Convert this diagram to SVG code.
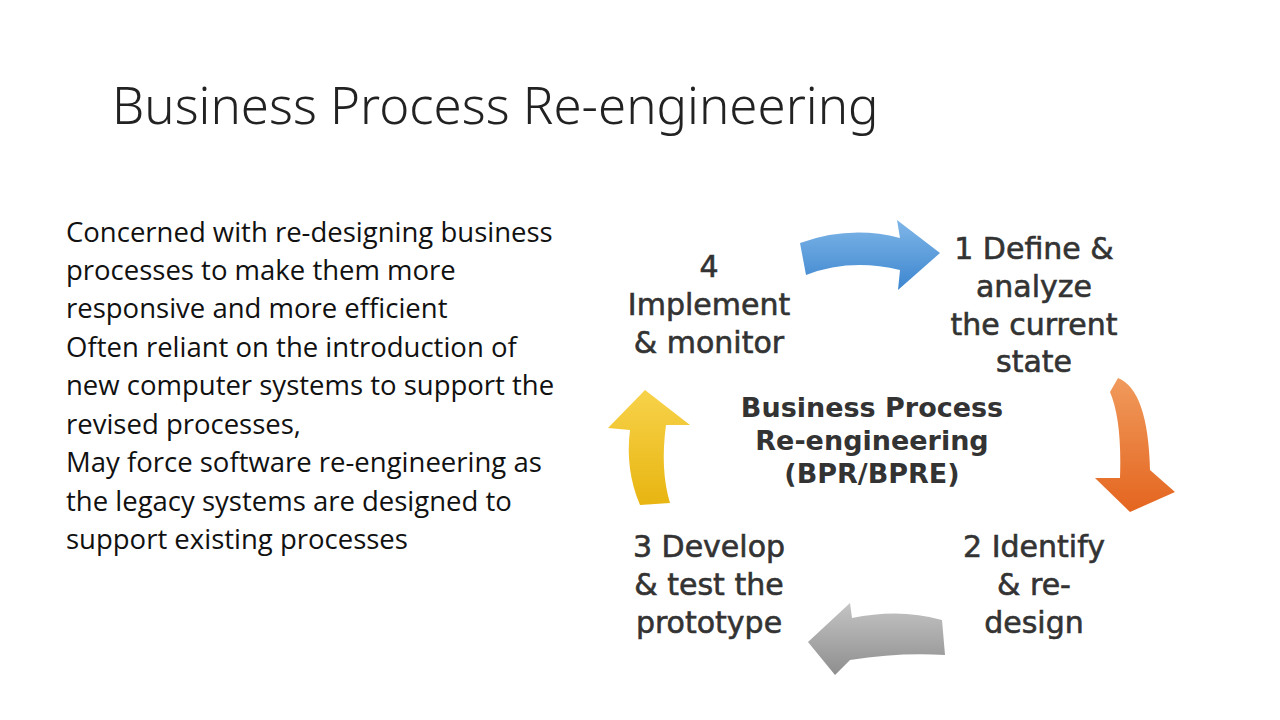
<svg xmlns="http://www.w3.org/2000/svg" width="1280" height="720" viewBox="0 0 1280 720">
<defs>
<linearGradient id="gb" x1="0" y1="0" x2="0" y2="1"><stop offset="0" stop-color="#7fb6e8"/><stop offset="1" stop-color="#3d86cf"/></linearGradient>
<linearGradient id="go" x1="0" y1="0" x2="0" y2="1"><stop offset="0" stop-color="#f09a5c"/><stop offset="1" stop-color="#e4651f"/></linearGradient>
<linearGradient id="gg" x1="0" y1="0" x2="0" y2="1"><stop offset="0" stop-color="#c4c4c4"/><stop offset="1" stop-color="#8e8e8e"/></linearGradient>
<linearGradient id="gy" x1="0" y1="0" x2="0" y2="1"><stop offset="0" stop-color="#f7d24a"/><stop offset="1" stop-color="#e8b511"/></linearGradient>
</defs>
<style>
.t{font-family:"Noto Sans","Open Sans",sans-serif;font-weight:300;font-size:51px;fill:#222}
.b{font-family:"Open Sans","Noto Sans",sans-serif;font-size:27.5px;fill:#111}
.d{font-family:"DejaVu Sans",Verdana,sans-serif;font-size:30px;fill:#333;stroke:#333;stroke-width:0.6;text-anchor:middle}
.c{font-family:"DejaVu Sans",Verdana,sans-serif;font-size:27px;font-weight:bold;fill:#333;text-anchor:middle}
</style>
<rect width="1280" height="720" fill="#fff"/>
<text class="t" x="112" y="124">Business Process Re-engineering</text>
<g class="b">
<text x="66" y="242">Concerned with re-designing business</text>
<text x="66" y="280">processes to make them more</text>
<text x="66" y="318">responsive and more efficient</text>
<text x="66" y="357">Often reliant on the introduction of</text>
<text x="66" y="395">new computer systems to support the</text>
<text x="66" y="434">revised processes,</text>
<text x="66" y="472">May force software re-engineering as</text>
<text x="66" y="511">the legacy systems are designed to</text>
<text x="66" y="549">support existing processes</text>
</g>
<g id="connectors">
<path d="M800,243 Q850,225 900,238 L897,220 L940,253 L898,290 L900,270 Q850,258 806,275 Z" fill="url(#gb)"/>
<path d="M1118,378 Q1148,390 1150,470 L1175,492 L1130,512 L1095,478 L1120,478 Q1122,420 1110,392 Z" fill="url(#go)"/>
<path d="M942,620 Q900,608 852,618 L850,603 L808,642 L835,675 L850,660 Q900,652 945,655 Z" fill="url(#gg)"/>
<path d="M640,505 Q625,470 630,430 L608,428 L645,390 L690,425 L666,425 Q660,470 670,503 Z" fill="url(#gy)"/>
</g>
<g id="n1" class="d"><text x="1034" y="259">1 Define &amp;</text><text x="1034" y="297">analyze</text><text x="1034" y="335">the current</text><text x="1034" y="372">state</text></g>
<g id="n2" class="d"><text x="1034" y="557">2 Identify</text><text x="1034" y="595">&amp; re-</text><text x="1034" y="633">design</text></g>
<g id="n3" class="d"><text x="709" y="557">3 Develop</text><text x="709" y="595">&amp; test the</text><text x="709" y="633">prototype</text></g>
<g id="n4" class="d"><text x="709" y="277">4</text><text x="709" y="315">Implement</text><text x="709" y="353">&amp; monitor</text></g>
<g id="center" class="c"><text x="872" y="417">Business Process</text><text x="872" y="450">Re-engineering</text><text x="872" y="483">(BPR/BPRE)</text></g>
</svg>
